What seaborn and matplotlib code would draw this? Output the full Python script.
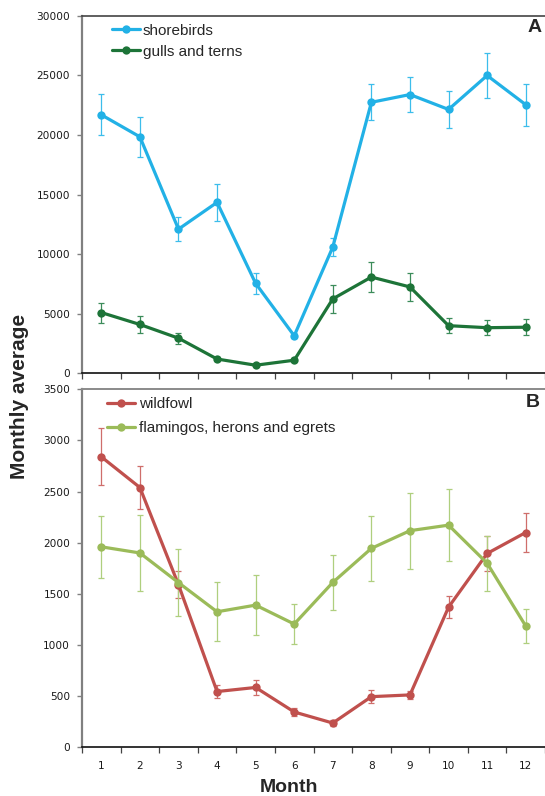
import matplotlib
matplotlib.use("Agg")
import matplotlib.pyplot as plt
from matplotlib.ticker import MultipleLocator, FixedLocator
import seaborn as sns
import pandas as pd
import numpy as np

# Monthly averages and their error margins
months = list(range(1, 13))

shorebirds = [21700, 19850, 12100, 14350, 7550, 3150, 10600, 22750, 23400, 22150, 25000, 22550]
shorebirds_err = [1730, 1700, 1000, 1550, 900, 200, 750, 1520, 1490, 1530, 1900, 1750]

gulls_terns = [5100, 4100, 2950, 1200, 680, 1100, 6250, 8080, 7250, 4000, 3830, 3870]
gulls_terns_err = [840, 700, 470, 150, 100, 100, 1150, 1240, 1200, 650, 620, 650]

wildfowl = [2840, 2540, 1590, 545, 585, 345, 237, 495, 512, 1370, 1895, 2100]
wildfowl_err = [280, 215, 130, 65, 75, 40, 25, 63, 40, 110, 170, 190]

flamingos = [1960, 1900, 1610, 1325, 1390, 1205, 1612, 1945, 2118, 2172, 1800, 1186]
flamingos_err = [300, 375, 330, 290, 290, 200, 270, 320, 370, 350, 270, 165]

panel_a = {"shorebirds": (shorebirds, shorebirds_err),
           "gulls and terns": (gulls_terns, gulls_terns_err)}
panel_b = {"wildfowl": (wildfowl, wildfowl_err),
           "flamingos, herons and egrets": (flamingos, flamingos_err)}

line_colors = {"shorebirds": "#22B1E6", "gulls and terns": "#1D7438",
               "wildfowl": "#C0504D", "flamingos, herons and egrets": "#9BBB59"}
err_colors = {"shorebirds": "#3CBDEB", "gulls and terns": "#3C8C5A",
              "wildfowl": "#CF6E6B", "flamingos, herons and egrets": "#AFCF7E"}

sns.set_style("ticks")
plt.rcParams["font.family"] = ["Liberation Sans", "DejaVu Sans"]

fig = plt.figure(figsize=(5.45, 7.96), dpi=100)
ax_a = fig.add_axes([0.1505, 0.531, 0.8495, 0.449])
ax_b = fig.add_axes([0.1505, 0.0612, 0.8495, 0.4497])


def draw_panel(ax, series, ymax, ystep):
    rows = []
    for name, (vals, errs) in series.items():
        for m, v in zip(months, vals):
            rows.append({"Month": m, "value": v, "series": name})
    df = pd.DataFrame(rows)
    for name, (vals, errs) in series.items():
        ax.errorbar(months, vals, yerr=errs, fmt="none", ecolor=err_colors[name],
                    elinewidth=0.9, capsize=2.2, capthick=0.9, zorder=2)
    sns.lineplot(data=df, x="Month", y="value", hue="series",
                 palette=line_colors, marker="o", markersize=6,
                 markeredgewidth=0, linewidth=2.3, ax=ax, zorder=3,
                 errorbar=None)
    ax.set_xlim(0.5, 12.5)
    ax.set_ylim(0, ymax)
    ax.yaxis.set_major_locator(MultipleLocator(ystep))
    ax.set_xlabel("")
    ax.set_ylabel("")
    ax.xaxis.set_major_locator(FixedLocator(months))
    ax.xaxis.set_minor_locator(FixedLocator(np.arange(0.5, 13.0, 1.0)))
    ax.tick_params(axis="x", which="major", length=0, pad=10)
    ax.tick_params(axis="x", which="minor", length=4.5, width=0.9, color="#444444",
                   direction="out")
    ax.tick_params(axis="y", which="major", length=3.5, width=1.0, color="#808080",
                   pad=5, direction="out")
    for lbl in ax.get_xticklabels() + ax.get_yticklabels():
        lbl.set_fontfamily("DejaVu Sans")
        lbl.set_fontsize(7.6)
        lbl.set_color("#1a1a1a")
    ax.spines["left"].set_color("#808080")
    ax.spines["left"].set_linewidth(1.6)
    ax.spines["bottom"].set_color("#111111")
    ax.spines["bottom"].set_linewidth(1.2)
    ax.spines["right"].set_visible(False)
    ax.spines["top"].set_visible(True)
    ax.grid(False)


draw_panel(ax_a, panel_a, 30000, 5000)
draw_panel(ax_b, panel_b, 3500, 500)

ax_a.set_xticklabels([])
ax_a.spines["top"].set_color("#444444")
ax_a.spines["top"].set_linewidth(1.2)
ax_b.spines["top"].set_color("#8a8a8a")
ax_b.spines["top"].set_linewidth(1.4)

ax_a.legend(loc="upper left", bbox_to_anchor=(0.065, 0.978), frameon=False,
            fontsize=11, handlelength=1.8, handletextpad=0.2, labelspacing=0.45,
            borderpad=0, borderaxespad=0)
ax_b.legend(loc="upper left", bbox_to_anchor=(0.054, 0.978), frameon=False,
            fontsize=11, handlelength=1.8, handletextpad=0.3, labelspacing=0.65,
            borderpad=0, borderaxespad=0)

ax_a.text(0.993, 0.967, "A", transform=ax_a.transAxes, ha="right", va="center",
          fontsize=14, fontweight="bold")
ax_b.text(0.989, 0.9645, "B", transform=ax_b.transAxes, ha="right", va="center",
          fontsize=14, fontweight="bold")

fig.text(0.035, 0.502, "Monthly average", rotation=90, ha="center", va="center",
         fontsize=15, fontweight="bold")
fig.text(0.53, 0.011, "Month", ha="center", va="center", fontsize=14,
         fontweight="bold")

fig.savefig("out.png", dpi=100)
